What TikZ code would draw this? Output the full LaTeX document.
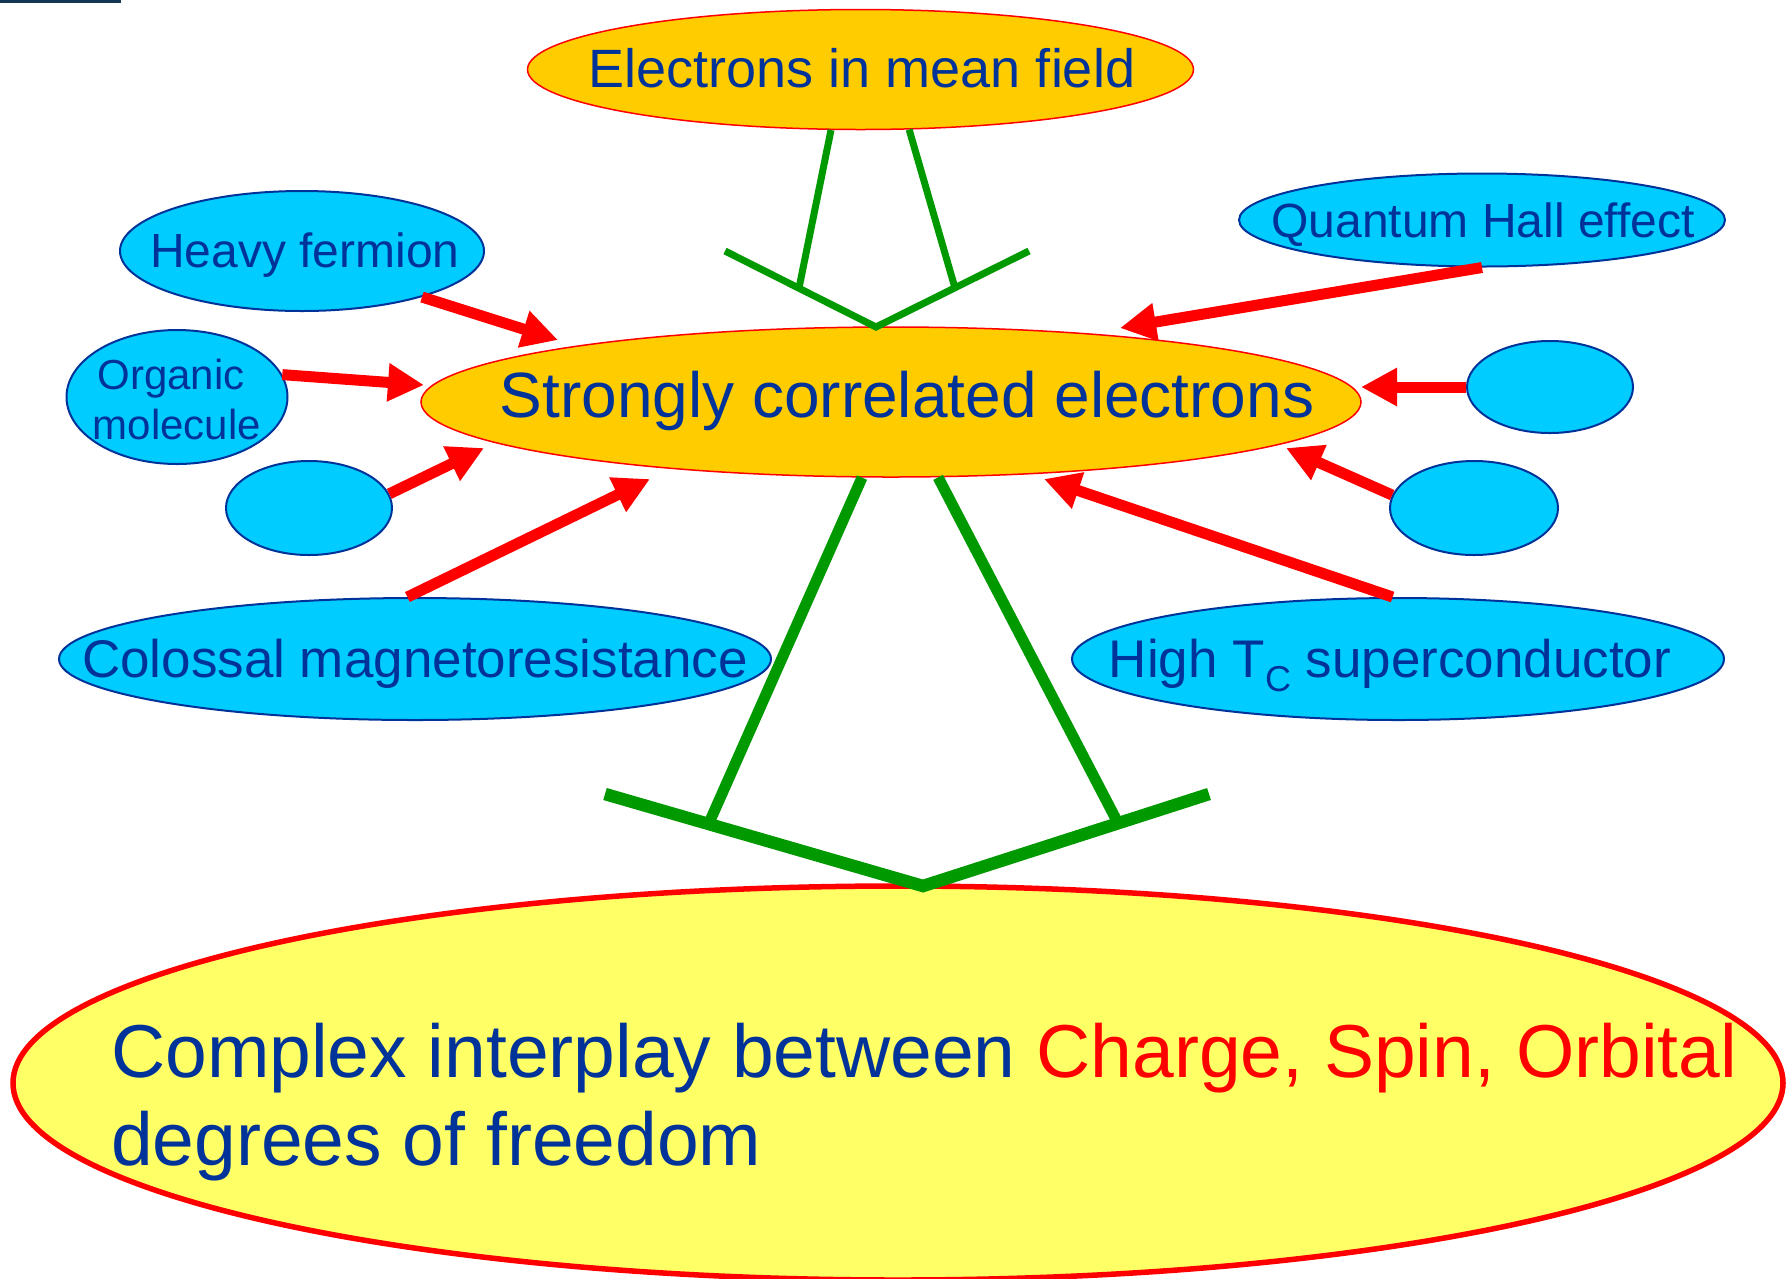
\documentclass[tikz,border=0pt]{standalone}
\usepackage{fontspec}
\setmainfont{Liberation Sans}
\usetikzlibrary{arrows.meta,shapes.geometric}
\definecolor{tblue}{RGB}{0,51,153}
\definecolor{orng}{RGB}{255,204,0}
\definecolor{cyn}{RGB}{0,204,255}
\definecolor{ylw}{RGB}{255,255,102}
\definecolor{grn}{RGB}{0,153,0}
\definecolor{topline}{RGB}{20,55,85}
\begin{document}
\begin{tikzpicture}[x=1pt,y=-1pt,
  oell/.style={ellipse, draw=red, line width=1.5pt, fill=orng, inner sep=0pt},
  cell/.style={ellipse, draw=tblue, line width=2pt, fill=cyn, inner sep=0pt},
  txt/.style={text=tblue, inner sep=0pt, font=\fontsize{#1}{#1}\selectfont},
  redarrow/.style={draw=red, line width=11pt, -{Triangle[length=36pt,width=36pt]}},
  grnthin/.style={draw=grn, line width=7pt},
  grnleg/.style={draw=grn, line width=11pt},
  grnthick/.style={draw=grn, line width=12.5pt}]
\useasboundingbox (0,0) rectangle (1787,1278);
\fill[topline] (0,0) rectangle (121,3);

% ellipses
\node[ellipse, draw=red, line width=5.5pt, fill=ylw, minimum width=1770pt, minimum height=394pt, inner sep=0pt] (cx) at (898,1083) {};
\node[oell, minimum width=666pt, minimum height=120pt] (emf) at (860.5,69.5) {};
\node[oell, minimum width=940pt, minimum height=150pt] (sce) at (891,402) {};
\node[cell, minimum width=364pt, minimum height=120pt] (hf) at (302,251) {};
\node[cell, minimum width=221pt, minimum height=134pt] (org) at (177,397) {};
\node[cell, minimum width=166pt, minimum height=94pt] (el) at (309,508) {};
\node[cell, minimum width=712pt, minimum height=122pt] (cmr) at (415,659) {};
\node[cell, minimum width=486pt, minimum height=93pt] (qhe) at (1482,220) {};
\node[cell, minimum width=166pt, minimum height=92pt] (ert) at (1550,387) {};
\node[cell, minimum width=168pt, minimum height=94pt] (erl) at (1474,508) {};
\node[cell, minimum width=652pt, minimum height=122pt] (hts) at (1398,659) {};

% texts
\node[txt=54, anchor=base] (emft) at (862,87) {Electrons in mean field};
\node[txt=64, anchor=base] (scet) at (907,417) {Strongly correlated electrons};
\node[txt=48, anchor=base] (hft) at (305,267) {Heavy fermion};
\node[txt=48, anchor=base] (qhet) at (1483,237) {Quantum Hall effect};
\node[txt=42, anchor=base] (orgt1) at (171,389) {Organic};
\node[txt=42, anchor=base] (orgt2) at (177,439) {molecule};
\node[txt=53, anchor=base] (cmrt) at (415,677) {Colossal magnetoresistance};
\node[txt=53, anchor=base] (htst) at (1390,677) {High T\raisebox{-0.28em}{\fontsize{36}{36}\selectfont C} superconductor};
\node[txt=75, anchor=base west] (cxt1) at (111,1077) {Complex interplay between \textcolor{red}{Charge, Spin, Orbital}};
\node[txt=75, anchor=base west] (cxt2) at (111,1165) {degrees of freedom};

% green connectors
\coordinate (tvL) at (725,251);
\coordinate (tvM) at (876,327);
\coordinate (tvR) at (1029,251);
\coordinate (tla) at (799,288);
\coordinate (tra) at (955,288);
\draw[grnthin] (emf.-116.3) -- (tla);
\draw[grnthin] (emf.-51.9) -- (tra);
\draw[grnthin] (tvL) -- (tvM) -- (tvR);

\coordinate (bvL) at (605,794);
\coordinate (bvM) at (923,886);
\coordinate (bvR) at (1209,794);
\coordinate (bla) at (709,823);
\coordinate (bra) at (1118,823);
\draw[grnleg] (sce.-111.2) -- (bla);
\draw[grnleg] (sce.-58.9) -- (bra);
\draw[grnthick] (bvL) -- (bvM) -- (bvR);

% red arrows
\coordinate (ta) at (558,340);
\coordinate (tb) at (424,385);
\coordinate (tc) at (484,448);
\coordinate (td) at (650,479);
\coordinate (te) at (1120,328);
\coordinate (tf) at (1361,387);
\coordinate (tg) at (1286,448);
\coordinate (th) at (1044,479);
\draw[redarrow] (hf.-21.5) -- (ta);
\draw[redarrow] (org.12.8) -- (tb);
\draw[redarrow] (el.10.1) -- (tc);
\draw[redarrow] (cmr.97.4) -- (td);
\draw[redarrow] (qhe.-90) -- (te);
\draw[redarrow] (ert.180) -- (tf);
\draw[redarrow] (erl.171.2) -- (tg);
\draw[redarrow] (hts.95.5) -- (th);
\end{tikzpicture}
\end{document}
